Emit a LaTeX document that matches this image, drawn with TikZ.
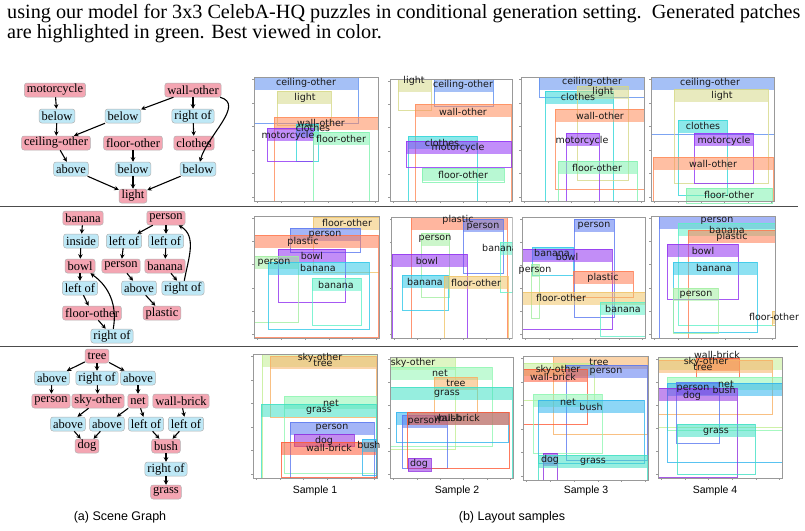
\documentclass[tikz,border=0pt]{standalone}
\usepackage{fontspec}
\setmainfont{Liberation Serif}
\newfontfamily\plotfont{DejaVu Sans}
\newfontfamily\capfont{Liberation Sans}
\usetikzlibrary{arrows.meta,positioning}
\definecolor{objpink}{HTML}{F4A5B2}
\definecolor{relblue}{HTML}{BEE8F6}
\definecolor{cceil}{HTML}{5B8DEF}
\definecolor{clight}{HTML}{D6D888}
\definecolor{cwall}{HTML}{FF8A58}
\definecolor{cclothes}{HTML}{30D6D8}
\definecolor{cmoto}{HTML}{9032F5}
\definecolor{cfloor}{HTML}{7EF2AE}
\definecolor{cperson}{HTML}{5A78F0}
\definecolor{cperson2}{HTML}{A2EEA0}
\definecolor{cbanana}{HTML}{30C8E8}
\definecolor{cbanana2}{HTML}{60F0C8}
\definecolor{cplastic}{HTML}{FF7A50}
\definecolor{cbowl}{HTML}{9030F0}
\definecolor{cfloorw}{HTML}{F0C468}
\definecolor{csky}{HTML}{C2EE92}
\definecolor{ctree}{HTML}{F8B064}
\definecolor{cnet}{HTML}{90F6B2}
\definecolor{cgrass}{HTML}{40E0C4}
\definecolor{cwallb}{HTML}{FF5A36}
\definecolor{cbush}{HTML}{30B4EE}
\definecolor{cdog}{HTML}{9030E0}
\tikzset{
  obj/.style={rectangle,rounded corners=2.5pt,draw=black!30,line width=0.5pt,fill=objpink,font=\fontsize{12.5}{13}\selectfont,inner xsep=2.5pt,inner ysep=1pt,minimum height=14pt},
  rel/.style={obj,fill=relblue},
  edge/.style={-{Stealth[length=4.5pt,width=4.5pt]},line width=1.1pt,black},
  lbl/.style={font=\plotfont\fontsize{9.5}{10}\selectfont,inner sep=0pt,text=black!90},
  axframe/.style={draw=black!40,line width=0.8pt},
  rule/.style={black!70,line width=0.9pt},
  caption/.style={font=\fontsize{20.2}{21}\selectfont,inner sep=0pt,anchor=base west},
  sublabel/.style={font=\capfont\fontsize{12.5}{14}\selectfont},
  samplelabel/.style={font=\capfont\fontsize{10.5}{12}\selectfont}
}
\newcommand{\layoutpanel}[6]{%
  \foreach \xa/\ya/\xb/\yb/\col/\lx/\ly/\txt in {#6}{
    \fill[fill=\col,opacity=.55] (\xa,-\ya) rectangle (\xb,{-min(\ya+13,\yb)});
    \draw[draw=\col,opacity=.8,line width=1pt] (\xa,-\ya) rectangle (\xb,-\yb);
  }
  \draw[axframe] (#2,-#3) rectangle (#4,-#5);
  \foreach \k in {0,...,5}{
    \draw[axframe] ({#2+(#4-#2)*(.03+.19*\k)},-#5) -- ++(0,-2);
    \draw[axframe] (#2,{-#5+(#5-#3)*(.03+.19*\k)}) -- ++(-2,0);
  }
  \foreach \xa/\ya/\xb/\yb/\col/\lx/\ly/\txt [count=\i] in {#6}{
    \node[lbl] (#1-\i) at (\lx,-\ly) {\txt};
  }
}

\begin{document}
\begin{tikzpicture}[x=1pt,y=1pt]
    \useasboundingbox (0,0) rectangle (805,-530);
    \node[caption] (cap1) at (7,-18) {using our model for 3x3 CelebA-HQ puzzles in conditional generation setting.\ \ Generated patches};
    \node[caption] (cap2) at (7,-38) {are highlighted in green. Best viewed in color.};
    \draw[rule] (0,-206) -- (798,-206);
    \draw[rule] (0,-346) -- (798,-346);

    \node[obj] (moto) at (55,-90) {motorcycle};
    \node[obj] (wallo) at (193,-90) {wall-other};
    \node[rel] (bel1) at (57,-116) {below};
    \node[rel] (bel2) at (123,-116) {below};
    \node[rel] (rof1) at (193,-116) {right of};
    \node[obj] (ceil) at (56,-143) {ceiling-other};
    \node[obj] (flo1) at (133,-143) {floor-other};
    \node[obj] (clo) at (194,-143) {clothes};
    \node[rel] (abv1) at (71,-169) {above};
    \node[rel] (bel3) at (133,-169) {below};
    \node[rel] (bel4) at (198,-169) {below};
    \node[obj] (light) at (133,-196) {light};
    \draw[edge] (moto) -- (bel1);
    \draw[edge] (bel1) -- (ceil);
    \draw[edge] (wallo) -- (bel2);
    \draw[edge] (bel2) -- (ceil);
    \draw[edge] (wallo) -- (rof1);
    \draw[edge] (rof1) -- (clo);
    \draw[edge] (wallo) to[out=-15,in=75] (bel4);
    \draw[edge] (ceil) -- (abv1);
    \draw[edge] (abv1) -- (light);
    \draw[edge] (flo1) -- (bel3);
    \draw[edge] (bel3) -- (light);
    \draw[edge] (bel4) -- (light);

    \node[obj] (ban1) at (83,-218) {banana};
    \node[obj] (per1) at (166,-218) {person};
    \node[rel] (ins) at (81,-241) {inside};
    \node[rel] (lof1) at (124,-241) {left of};
    \node[rel] (lof2) at (166,-241) {left of};
    \node[obj] (bowl) at (80,-266) {bowl};
    \node[obj] (per2) at (121,-266) {person};
    \node[obj] (ban2) at (165,-266) {banana};
    \node[rel] (lof3) at (80,-288) {left of};
    \node[rel] (abv2) at (139,-288) {above};
    \node[rel] (rof2) at (183,-288) {right of};
    \node[obj] (flo2) at (92,-313) {floor-other};
    \node[obj] (plas) at (162,-313) {plastic};
    \node[rel] (rof3) at (112,-336) {right of};
    \draw[edge] (ban1) -- (ins);
    \draw[edge] (ins) -- (bowl);
    \draw[edge] (bowl) -- (lof3);
    \draw[edge] (lof3) -- (flo2);
    \draw[edge] (flo2) -- (rof3);
    \draw[edge] (rof3) to[out=80,in=-35] (bowl);
    \draw[edge] (per1) -- (lof1);
    \draw[edge] (lof1) -- (per2);
    \draw[edge] (per2) -- (abv2);
    \draw[edge] (abv2) -- (plas);
    \draw[edge] (per1) -- (lof2);
    \draw[edge] (lof2) -- (ban2);
    \draw[edge] (ban2) -- (rof2);
    \draw[edge] (rof2) to[out=80,in=-30] (per1);

    \node[obj] (tree) at (97,-356) {tree};
    \node[rel] (abv3) at (52,-378) {above};
    \node[rel] (rof4) at (97,-378) {right of};
    \node[rel] (abv4) at (138,-378) {above};
    \node[obj] (per3) at (51,-401) {person};
    \node[obj] (sky) at (98,-401) {sky-other};
    \node[obj] (net) at (138,-401) {net};
    \node[obj] (wallb) at (181,-401) {wall-brick};
    \node[rel] (abv5) at (68,-424) {above};
    \node[rel] (abv6) at (107,-424) {above};
    \node[rel] (lof4) at (146,-424) {left of};
    \node[rel] (lof5) at (186,-424) {left of};
    \node[obj] (dog) at (87,-446) {dog};
    \node[obj] (bush) at (166,-446) {bush};
    \node[rel] (rof5) at (166,-469) {right of};
    \node[obj] (grass) at (166,-492) {grass};
    \draw[edge] (tree) -- (abv3);
    \draw[edge] (abv3) -- (per3);
    \draw[edge] (tree) -- (rof4);
    \draw[edge] (rof4) -- (sky);
    \draw[edge] (sky) -- (abv5);
    \draw[edge] (abv5) -- (dog);
    \draw[edge] (tree) -- (abv4);
    \draw[edge] (abv4) -- (net);
    \draw[edge] (net) -- (abv6);
    \draw[edge] (abv6) -- (dog);
    \draw[edge] (net) -- (lof4);
    \draw[edge] (lof4) -- (bush);
    \draw[edge] (wallb) -- (lof5);
    \draw[edge] (lof5) -- (bush);
    \draw[edge] (bush) -- (rof5);
    \draw[edge] (rof5) -- (grass);
    \node[sublabel] (suba) at (120,-517) {(a) Scene Graph};

    \layoutpanel{p11}{254}{77}{378}{201}{
      254/77/358/123/cceil/306/83/ceiling-other,
      277/91/331/125/clight/305/98/light,
      274/117/378/201/cwall/321/123/wall-other,
      296/124/318/161/cclothes/313/128/clothes,
      267/128/313/161/cmoto/288/136/motorcycle,
      313/132/369/201/cfloor/341/139/floor-other}
    \layoutpanel{p12}{390}{79}{512}{201}{
      398/79/431/110/clight/414/81/light,
      434/79/493/106/cceil/463/85/ceiling-other,
      415/104/511/201/cwall/463/112/wall-other,
      408/136/477/201/cclothes/442/143/clothes,
      406/141/511/167/cmoto/458/148/motorcycle,
      422/168/504/182/cfloor/463/175/floor-other}
    \layoutpanel{p13}{521}{77}{644}{201}{
      539/77/644/97/cceil/592/82/ceiling-other,
      545/91/613/201/cclothes/578/97/clothes,
      577/86/628/180/clight/603/92/light,
      555/109/644/189/cwall/600/116/wall-other,
      566/133/599/201/cmoto/582/141/motorcycle,
      558/161/637/201/cfloor/597/168/floor-other}
    \layoutpanel{p14}{651}{77}{774}{201}{
      651/77/774/134/cceil/710/83/ceiling-other,
      674/89/768/183/clight/722/96/light,
      678/120/727/195/cclothes/703/126/clothes,
      694/133/753/183/cmoto/724/141/motorcycle,
      653/157/773/201/cwall/713/164/wall-other,
      686/188/772/203/cfloor/729/195/floor-other}

    \layoutpanel{p21}{254}{216}{379}{338}{
      313/217/379/272/cfloorw/347/223/floor-other,
      290/228/360/252/cperson/325/235/person,
      254/235/378/337/cplastic/303/242/plastic,
      278/249/345/302/cbowl/312/256/bowl,
      254/256/298/322/cperson2/274/263/person,
      268/262/369/329/cbanana/318/268/banana,
      312/278/361/325/cbanana2/336/285/banana}
    \begin{scope}
      \clip (390,-210) rectangle (512.5,-341);
      \layoutpanel{p22}{391}{217}{512}{338}{
        411/217/507/338/cplastic/458/220/plastic,
        463/219/503/273/cperson/483/227/person,
        421/233/449/297/cperson2/435/239/person,
        500/242/512/292/cbanana2/500/248/banana,
        392/254/467/338/cbowl/427/261/bowl,
        402/275/448/310/cbanana/425/282/banana,
        444/276/508/338/cfloorw/476/283/floor-other}
    \end{scope}
    \layoutpanel{p23}{522}{217}{645}{338}{
      574/219/614/317/cperson/594/226/person,
      532/247/573/275/cbanana/552/253/banana,
      522/249/612/329/cbowl/567/257/bowl,
      531/264/539/318/cperson2/535/271/person,
      573/271/633/297/cplastic/603/278/plastic,
      522/292/645/338/cfloorw/561/298/floor-other,
      600/302/645/336/cbanana2/623/309/banana}
    \layoutpanel{p24}{651}{216}{775}{338}{
      659/216/775/338/cperson/717/221/person,
      678/223/775/325/cbanana2/727/230/banana,
      688/230/775/338/cplastic/732/237/plastic,
      667/244/738/299/cbowl/703/251/bowl,
      673/262/757/332/cbanana/714/268/banana,
      673/288/718/333/cperson2/696/295/person,
      772/311/775/325/cfloorw/774/317/floor-other}

    \layoutpanel{p31}{253}{354}{377}{478}{
      262/354/377/478/csky/320/358/sky-other,
      270/356/376/417/ctree/323/363/tree,
      284/396/376/473/cnet/331/403/net,
      261/404/376/478/cgrass/319/411/grass,
      290/422/374/478/cperson/332/428/person,
      294/434/354/446/cdog/324/441/dog,
      281/442/376/477/cwallb/329/448/wall-brick,
      362/439/376/475/cbush/369/445/bush}
    \layoutpanel{p32}{390}{357}{513}{478}{
      390/357/455/449/csky/413/363/sky-other,
      390/367/492/446/cnet/440/373/net,
      434/377/477/420/ctree/456/383/tree,
      390/387/512/478/cgrass/447/394/grass,
      396/412/508/442/cbush/450/418/bush,
      402/415/447/468/cperson/424/422/person,
      407/412/509/468/cwallb/457/418/wall-brick,
      408/458/431/471/cdog/419/464/dog}
    \layoutpanel{p33}{523}{356}{648}{480}{
      553/356/647/434/ctree/599/362/tree,
      523/363/594/400/csky/558/370/sky-other,
      566/365/647/460/cperson/606/372/person,
      523/369/587/424/cwallb/553/377/wall-brick,
      533/394/602/453/cnet/568/402/net,
      538/400/644/463/cbush/591/407/bush,
      543/453/557/480/cdog/550/460/dog,
      538/455/647/480/cgrass/593/462/grass}
    \layoutpanel{p34}{658}{357}{782}{478}{
      658/357/782/427/csky/706/362/sky-other,
      696/358/739/377/cwallb/717/355/wall-brick,
      658/360/772/414/ctree/703/367/tree,
      667/377/782/430/cnet/726/384/net,
      667/383/782/462/cbush/724/390/bush,
      676/382/719/443/cperson/693/389/person,
      658/388/737/477/cdog/692/396/dog,
      677/424/755/474/cgrass/716/432/grass}

    \node[samplelabel] (s1) at (315,-491) {Sample 1};
    \node[samplelabel] (s2) at (457,-491) {Sample 2};
    \node[samplelabel] (s3) at (586,-491) {Sample 3};
    \node[samplelabel] (s4) at (715,-491) {Sample 4};
    \node[sublabel] (subb) at (512,-517) {(b) Layout samples};
\end{tikzpicture}
\end{document}
